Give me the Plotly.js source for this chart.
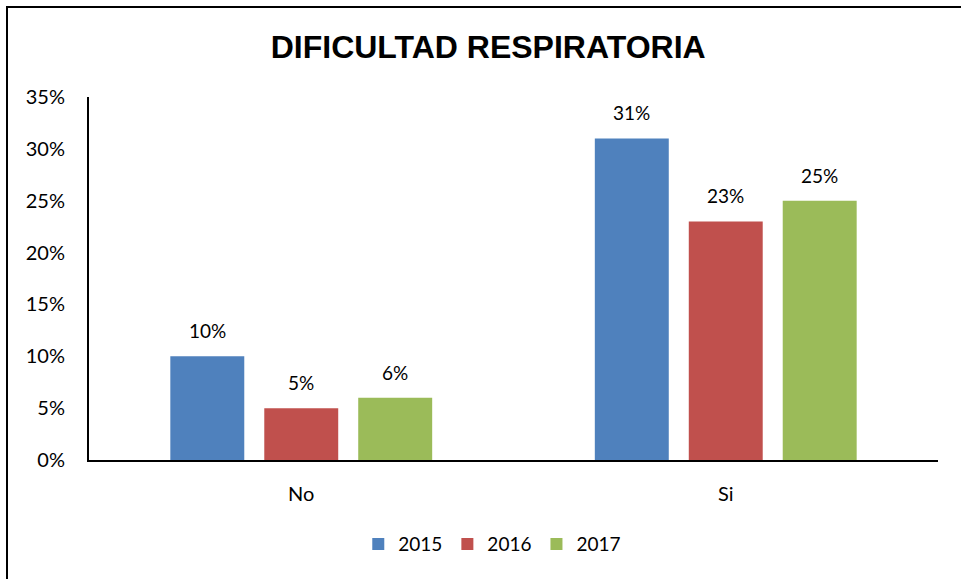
<!DOCTYPE html>
<html>
<head>
<meta charset="utf-8">
<script src="https://cdn.plot.ly/plotly-3.0.1.min.js"></script>
<style>
html,body{margin:0;padding:0;background:#fff;}
#frame{position:absolute;left:6px;top:6px;width:1200px;height:1000px;border:2px solid #000;box-sizing:border-box;}
#chart{position:absolute;left:0;top:0;width:961px;height:579px;}
</style>
</head>
<body>
<div id="frame"></div>
<div id="chart"></div>
<script>
const categories = ["No", "Si"];
const seriesNames = ["2015", "2016", "2017"];
const values2015 = [10, 31];
const values2016 = [5, 23];
const values2017 = [6, 25];
const colors = ["#4F81BD", "#C0504D", "#9BBB59"];

const allValues = [values2015, values2016, values2017];
const font = "Lato, 'Open Sans', sans-serif";

const bargap = 0.336, bargroupgap = 0.213;
const traces = allValues.map((v, i) => ({
  type: "bar",
  name: seriesNames[i],
  x: categories,
  y: v,
  marker: {color: colors[i]},
  hoverinfo: "none"
}));

const slot = (1 - bargap) / allValues.length;
const annotations = [];
allValues.forEach((v, i) => {
  v.forEach((val, j) => {
    annotations.push({
      x: j + (i - (allValues.length - 1) / 2) * slot,
      y: val,
      xref: "x", yref: "y",
      text: val + "%",
      showarrow: false,
      yanchor: "bottom",
      yshift: 12,
      font: {family: font, size: 19, color: "#000"}
    });
  });
});

const layout = {
  width: 961, height: 579,
  margin: {l: 89, r: 23, t: 97, b: 119},
  paper_bgcolor: "rgba(0,0,0,0)",
  plot_bgcolor: "rgba(0,0,0,0)",
  title: {text: "<b>DIFICULTAD RESPIRATORIA</b>", x: 0.508, xanchor: "center", y: 0.92, yanchor: "middle",
    font: {family: "'Liberation Sans', Arial, sans-serif", size: 32, color: "#000"}},
  barmode: "group",
  bargap: bargap,
  bargroupgap: bargroupgap,
  showlegend: true,
  legend: {orientation: "h", x: 0.475, xanchor: "center", y: -0.232, yanchor: "middle",
    font: {family: font, size: 19, color: "#000"}, itemwidth: 30, traceorder: "normal"},
  xaxis: {type: "category", showline: true, linecolor: "#000", linewidth: 2,
    ticks: "outside", ticklen: 15, tickcolor: "rgba(0,0,0,0)", showgrid: false,
    tickfont: {family: font, size: 20, color: "#000"}},
  yaxis: {range: [0, 35], dtick: 5, ticksuffix: "%", showline: true, linecolor: "#000", linewidth: 2,
    ticks: "outside", ticklen: 18, tickcolor: "rgba(0,0,0,0)", showgrid: false, zeroline: false,
    tickfont: {family: font, size: 20, color: "#000"}},
  annotations: annotations
};

Plotly.newPlot("chart", traces, layout, {displayModeBar: false, staticPlot: true});
</script>
</body>
</html>
